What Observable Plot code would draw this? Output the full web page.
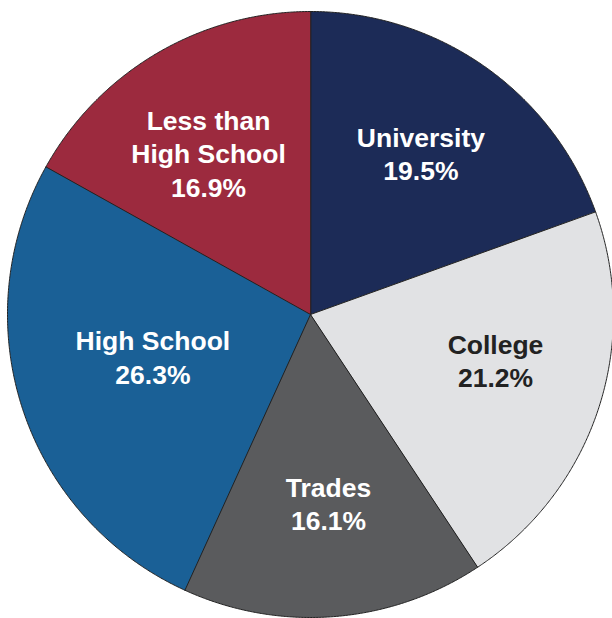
<!DOCTYPE html>
<html>
<head>
<meta charset="utf-8">
<script src="https://cdn.jsdelivr.net/npm/d3@7"></script>
<script src="https://cdn.jsdelivr.net/npm/@observablehq/plot@0.6"></script>
<style>
  html, body { margin: 0; padding: 0; background: #fff; }
  #chart svg { display: block; }
</style>
</head>
<body>
<div id="chart"></div>
<script>
// Data
const categories = ["University", "College", "Trades", "High School", "Less than High School"];
const shares = [19.5, 21.2, 16.1, 26.3, 16.9];
const labelLines = [["University"], ["College"], ["Trades"], ["High School"], ["Less than", "High School"]];
const sliceColors = ["#1c2b57", "#e1e2e4", "#5a5b5d", "#1a6096", "#9c2a3e"];
const textColors = ["#ffffff", "#222222", "#ffffff", "#ffffff", "#ffffff"];

// Build slice polygons from cumulative shares (clockwise from 12 o'clock)
const total = d3.sum(shares);
const slices = [];
let cum = 0;
shares.forEach((v, i) => {
  const a0 = (cum / total) * 2 * Math.PI;
  cum += v;
  const a1 = (cum / total) * 2 * Math.PI;
  slices.push({i, a0, a1, mid: (a0 + a1) / 2});
});
const pts = [];
for (const s of slices) {
  pts.push({k: s.i, x: 0, y: 0});
  const n = Math.max(2, Math.ceil((s.a1 - s.a0) / 0.005));
  for (let j = 0; j <= n; j++) {
    const a = s.a0 + (s.a1 - s.a0) * j / n;
    pts.push({k: s.i, x: Math.sin(a), y: Math.cos(a)});
  }
}
// label placement (layout): radius fraction and angular shift in degrees
const labelPlace = [
  {r: 0.64, shift: -0.4},
  {r: 0.63, shift: -4.1},
  {r: 0.63, shift: -0.9},
  {r: 0.54, shift: 2.6},
  {r: 0.626, shift: -2.1}
];
const labels = [];
slices.forEach(s => {
  const lines = [...labelLines[s.i], shares[s.i].toFixed(1) + "%"];
  const p = labelPlace[s.i];
  const a = s.mid + p.shift * Math.PI / 180;
  labels.push({x: p.r * Math.sin(a), y: p.r * Math.cos(a), text: lines.join("\n"), i: s.i});
});

const R = 303;
const W = 612, H = 618, cx = 310, cy = 314;
const marks = slices.map(s => Plot.line(pts.filter(p => p.k === s.i), {
  x: "x", y: "y", curve: "linear-closed",
  fill: sliceColors[s.i], stroke: "#222", strokeWidth: 1, strokeLinejoin: "round"
}));
labels.forEach(l => marks.push(Plot.text([l], {
  x: "x", y: "y", text: "text", fill: textColors[l.i],
  fontSize: 26.5, fontWeight: "bold", lineHeight: 1.26, dy: -2,
  fontFamily: "Liberation Sans, Arial, Helvetica, sans-serif"
})));

const chart = Plot.plot({
  width: W, height: H,
  margin: 0,
  x: {domain: [-cx / R, (W - cx) / R], axis: null},
  y: {domain: [-(H - cy) / R, cy / R], axis: null},
  marks
});
document.getElementById("chart").appendChild(chart);
</script>
</body>
</html>
